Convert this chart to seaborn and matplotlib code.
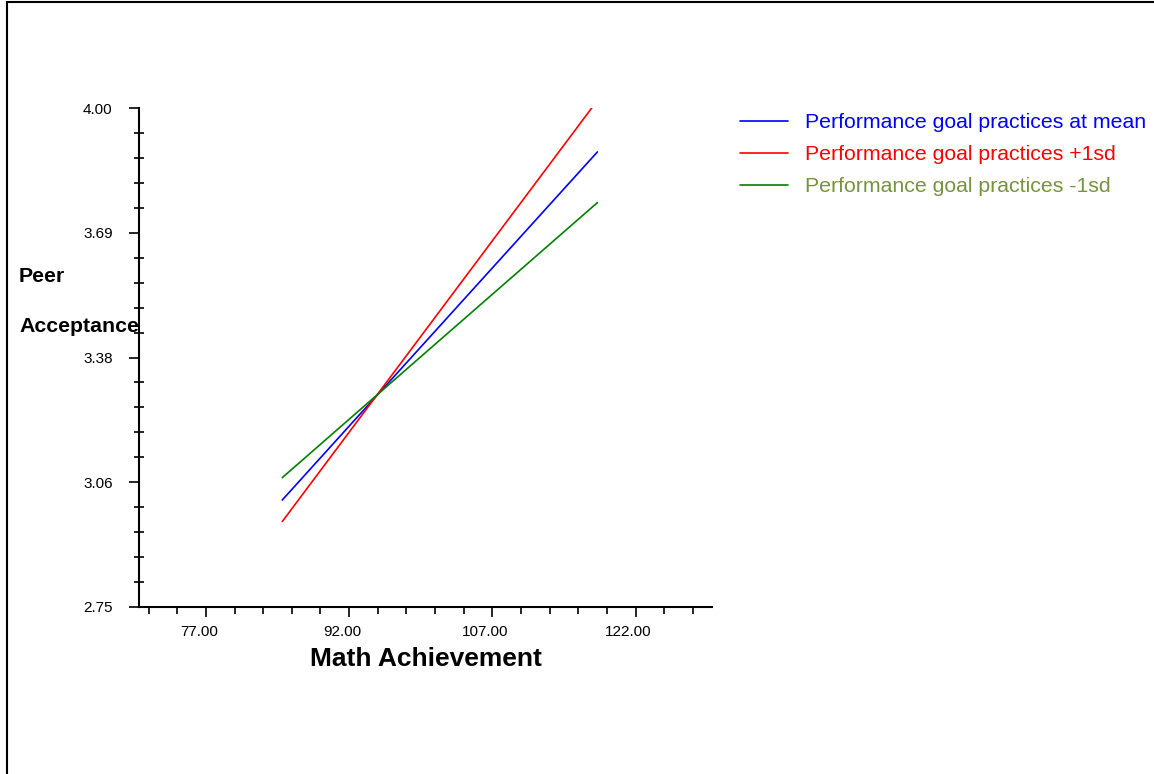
import matplotlib
matplotlib.use("Agg")
import matplotlib.pyplot as plt
import matplotlib.transforms as mtransforms
import seaborn as sns
import pandas as pd
from matplotlib.ticker import FixedLocator, MultipleLocator, NullFormatter
from matplotlib.patches import Rectangle

# ---- data ----
series_names = ["Performance goal practices at mean",
                "Performance goal practices +1sd",
                "Performance goal practices -1sd"]
math_x = [85.0, 118.0]
mean_y = [3.018, 3.890]
plus_y = [2.964, 4.019]
minus_y = [3.074, 3.763]
line_colors = ["#0000FF", "#FF0000", "#008000"]
text_colors = ["#0000FF", "#FF0000", "#77933C"]
ytick_vals = [2.75, 3.0625, 3.375, 3.6875, 4.0]
ytick_labels = ["2.75", "3.06", "3.38", "3.69", "4.00"]
xtick_vals = [77, 92, 107, 122]
xtick_labels = ["77.00", "92.00", "107.00", "122.00"]

rows = []
for name, ys in zip(series_names, [mean_y, plus_y, minus_y]):
    for xv, yv in zip(math_x, ys):
        rows.append({"Math Achievement": xv, "Peer Acceptance": yv, "series": name})
df = pd.DataFrame(rows)

sns.set_theme(style="white")
plt.rcParams["font.family"] = ["Liberation Sans", "DejaVu Sans"]
plt.rcParams["text.color"] = "black"
plt.rcParams["axes.labelcolor"] = "black"

fig = plt.figure(figsize=(11.54, 7.74), dpi=100)
ax = fig.add_axes([139/1154, 1-607/774, (712-139)/1154, (607-108)/774])

sns.lineplot(data=df, x="Math Achievement", y="Peer Acceptance", hue="series",
             hue_order=series_names, palette=line_colors, linewidth=1.2, ax=ax)

ax.set_xlim(70, 130)
ax.set_ylim(2.75, 4.0)

ax.xaxis.set_major_locator(FixedLocator(xtick_vals))
ax.set_xticklabels(xtick_labels)
ax.xaxis.set_minor_locator(MultipleLocator(3, offset=2))
ax.yaxis.set_major_locator(FixedLocator(ytick_vals))
ax.set_yticklabels(ytick_labels)
ax.yaxis.set_minor_locator(MultipleLocator(0.0625))
ax.yaxis.set_minor_formatter(NullFormatter())
ax.xaxis.set_minor_formatter(NullFormatter())

ax.tick_params(axis="x", which="major", direction="out", length=7, width=1.2,
               color="black", labelsize=11, labelcolor="black", bottom=True, pad=6)
ax.tick_params(axis="y", which="major", direction="out", length=7, width=1.2,
               color="black", labelsize=11, labelcolor="black", left=True, pad=12)
ax.tick_params(axis="x", which="minor", direction="out", length=5, width=1.2, color="black", bottom=True)
ax.tick_params(axis="y", which="minor", direction="inout", length=7, width=1.2, color="black", left=True)

shift = mtransforms.ScaledTranslation(-7/100, 0, fig.dpi_scale_trans)
for lab in ax.get_xticklabels():
    lab.set_transform(lab.get_transform() + shift)

for s in ["top", "right"]:
    ax.spines[s].set_visible(False)
for s in ["left", "bottom"]:
    ax.spines[s].set_color("black")
    ax.spines[s].set_linewidth(1.5)
ax.spines["left"].set_zorder(5)

ax.set_xlabel("Math Achievement", fontsize=19, fontweight="bold", labelpad=6, color="black")
ax.set_ylabel("Peer\n\nAcceptance", fontsize=15.3, fontweight="bold", rotation=0, color="black",
              ha="left", va="center", multialignment="left", linespacing=1.41)
ax.yaxis.set_label_coords(19/1154, 1-301.5/774, transform=fig.transFigure)

leg = ax.legend(loc="upper left", bbox_to_anchor=(740/1154, 1-113.5/774),
                bbox_transform=fig.transFigure, frameon=False, fontsize=15.3,
                handlelength=2.25, handletextpad=0.8, labelspacing=0.6,
                borderpad=0, borderaxespad=0, title=None)
for t, c in zip(leg.get_texts(), text_colors):
    t.set_color(c)
for h in leg.get_lines():
    h.set_linewidth(1.2)

fig.add_artist(Rectangle((7/1154, -0.1), 1.2, 1.1 - 2/774, transform=fig.transFigure,
                         fill=False, edgecolor="black", linewidth=1.5))

fig.savefig("out.png", dpi=100, facecolor="white")
